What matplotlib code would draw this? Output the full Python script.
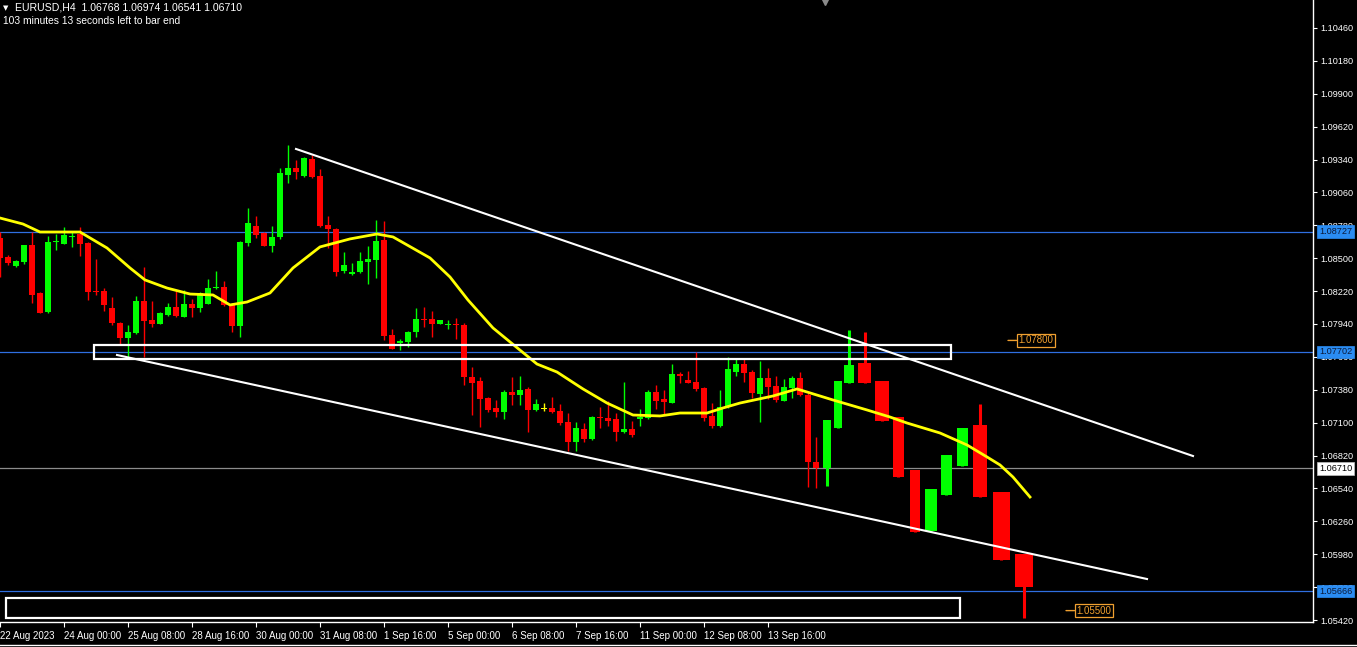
import numpy as np
import matplotlib
matplotlib.use("Agg")
import matplotlib.pyplot as plt
from matplotlib.lines import Line2D
from matplotlib.patches import Rectangle
import matplotlib.transforms as mtransforms

plt.rcParams['font.family'] = ['Liberation Sans', 'DejaVu Sans']

# ---------------- data ----------------
# bar index: 0 = 24 Aug 00:00 (H4 bars)
bar_index = np.arange(-8, 95)
opens = [1.08670, 1.08508, 1.08434, 1.08471, 1.08613, 1.08204, 1.08043, 1.08635,
         1.08619, 1.08684, 1.08707, 1.08633, 1.08218, 1.08221, 1.08077, 1.07952,
         1.07824, 1.07861, 1.08136, 1.07974, 1.07943, 1.08017, 1.08088, 1.08003,
         1.08111, 1.08079, 1.08113, 1.08247, 1.08255, 1.08108, 1.07926, 1.08633,
         1.08775, 1.08712, 1.08607, 1.08678, 1.09212, 1.09269, 1.09200, 1.09348,
         1.09203, 1.08783, 1.08752, 1.08392, 1.08363, 1.08383, 1.08471, 1.08488,
         1.08658, 1.07847, 1.07776, 1.07790, 1.07870, 1.07986, 1.07983, 1.07943,
         1.07935, 1.07940, 1.07931, 1.07491, 1.07454, 1.07307, 1.07227, 1.07193,
         1.07361, 1.07335, 1.07383, 1.07207, 1.07222, 1.07227, 1.07199, 1.07108,
         1.06932, 1.07046, 1.06960, 1.07148, 1.07139, 1.07128, 1.07017, 1.07046,
         1.07131, 1.07137, 1.07364, 1.07298, 1.07270, 1.07514, 1.07463, 1.07449,
         1.07392, 1.07156, 1.07071, 1.07230, 1.07534, 1.07599, 1.07534, 1.07344,
         1.07477, 1.07412, 1.07287, 1.07398, 1.07477, 1.07335, 1.06768]
highs = [1.08727, 1.08528, 1.08485, 1.08616, 1.08727, 1.08216, 1.08690, 1.08707,
         1.08763, 1.08729, 1.08763, 1.08641, 1.08494, 1.08244, 1.08167, 1.07960,
         1.07932, 1.08182, 1.08429, 1.08136, 1.08045, 1.08116, 1.08221, 1.08230,
         1.08150, 1.08210, 1.08321, 1.08392, 1.08304, 1.08116, 1.08647, 1.08925,
         1.08860, 1.08727, 1.08775, 1.09266, 1.09464, 1.09337, 1.09359, 1.09382,
         1.09257, 1.08860, 1.08758, 1.08556, 1.08457, 1.08556, 1.08605, 1.08826,
         1.08817, 1.07898, 1.07813, 1.07881, 1.08074, 1.08088, 1.08054, 1.07974,
         1.07974, 1.07988, 1.07945, 1.07576, 1.07486, 1.07315, 1.07293, 1.07378,
         1.07486, 1.07497, 1.07400, 1.07301, 1.07264, 1.07321, 1.07256, 1.07179,
         1.07103, 1.07094, 1.07156, 1.07230, 1.07287, 1.07179, 1.07449, 1.07117,
         1.07216, 1.07378, 1.07420, 1.07378, 1.07599, 1.07534, 1.07542, 1.07699,
         1.07400, 1.07264, 1.07378, 1.07656, 1.07653, 1.07653, 1.07548, 1.07628,
         1.07562, 1.07497, 1.07469, 1.07497, 1.07534, 1.07349, 1.06974]
lows = [1.08343, 1.08443, 1.08429, 1.08451, 1.08122, 1.08031, 1.08037, 1.08570,
        1.08619, 1.08593, 1.08522, 1.08145, 1.08187, 1.08054, 1.07932, 1.07770,
        1.07662, 1.07852, 1.07662, 1.07912, 1.07938, 1.08011, 1.07997, 1.07997,
        1.07997, 1.08043, 1.08111, 1.08238, 1.08096, 1.07870, 1.07827, 1.08605,
        1.08675, 1.08605, 1.08556, 1.08667, 1.09138, 1.09175, 1.09195, 1.09183,
        1.08769, 1.08585, 1.08352, 1.08372, 1.08358, 1.08377, 1.08281, 1.08329,
        1.07804, 1.07725, 1.07719, 1.07748, 1.07833, 1.07918, 1.07833, 1.07938,
        1.07894, 1.07809, 1.07420, 1.07165, 1.07066, 1.07193, 1.07151, 1.07131,
        1.07247, 1.07247, 1.07023, 1.07199, 1.07199, 1.07185, 1.07080, 1.06858,
        1.06861, 1.06937, 1.06952, 1.07051, 1.07071, 1.06946, 1.07009, 1.06975,
        1.07074, 1.07128, 1.07216, 1.07165, 1.07264, 1.07440, 1.07435, 1.07372,
        1.07117, 1.07057, 1.07060, 1.07222, 1.07500, 1.07449, 1.07307, 1.07108,
        1.07298, 1.07278, 1.07284, 1.07313, 1.07327, 1.06549, 1.06541]
closes = [1.08500, 1.08463, 1.08480, 1.08610, 1.08187, 1.08037, 1.08641, 1.08645,
          1.08698, 1.08692, 1.08622, 1.08216, 1.08213, 1.08102, 1.07949, 1.07824,
          1.07870, 1.08136, 1.07966, 1.07940, 1.08037, 1.08088, 1.08009, 1.08113,
          1.08079, 1.08202, 1.08250, 1.08252, 1.08099, 1.07926, 1.08641, 1.08803,
          1.08698, 1.08607, 1.08681, 1.09229, 1.09269, 1.09232, 1.09351, 1.09192,
          1.08778, 1.08746, 1.08383, 1.08443, 1.08383, 1.08480, 1.08494, 1.08650,
          1.07838, 1.07728, 1.07796, 1.07875, 1.07983, 1.07980, 1.07943, 1.07974,
          1.07939, 1.07935, 1.07486, 1.07440, 1.07298, 1.07207, 1.07193, 1.07364,
          1.07335, 1.07378, 1.07207, 1.07259, 1.07222, 1.07193, 1.07100, 1.06932,
          1.07051, 1.06958, 1.07151, 1.07142, 1.07117, 1.07017, 1.07046, 1.06995,
          1.07151, 1.07364, 1.07287, 1.07273, 1.07514, 1.07500, 1.07440, 1.07383,
          1.07137, 1.07071, 1.07230, 1.07554, 1.07599, 1.07525, 1.07349, 1.07477,
          1.07406, 1.07293, 1.07400, 1.07477, 1.07335, 1.06768, 1.06710]

# hand-drawn projection candles (start/end in bar units)
proj_start = [94.9, 96.25, 97.5, 99.25, 101.4, 103.6, 105.75, 107.6, 109.6, 111.6, 113.6, 116.1, 118.9]
proj_end = [95.9, 97.25, 98.75, 100.9, 103.1, 105.0, 107.0, 109.1, 111.0, 113.0, 115.4, 118.25, 121.1]
proj_open = [1.06714, 1.07055, 1.07438, 1.07608, 1.07455, 1.07148, 1.06697, 1.06178, 1.06484, 1.06731, 1.07080, 1.06510, 1.05982]
proj_close = [1.07123, 1.07455, 1.07591, 1.07438, 1.07114, 1.06637, 1.06169, 1.06535, 1.06825, 1.07055, 1.06467, 1.05931, 1.05701]
proj_high = [1.07123, 1.07455, 1.07889, 1.07872, 1.07455, 1.07148, 1.06697, 1.06535, 1.06825, 1.07055, 1.07259, 1.06510, 1.05982]
proj_low = [1.06561, 1.07055, 1.07438, 1.07438, 1.07114, 1.06637, 1.06169, 1.06178, 1.06484, 1.06731, 1.06467, 1.05931, 1.05437]

# moving average (yellow)
ma_bar = [-8, -5.125, -3, 2, 5.375, 8.25, 10.125, 12.875, 15.75, 18.625, 20.75, 22.875,
          25.75, 28.625, 32, 35.75, 39.125, 41.125, 45.75, 48.25, 50.5, 53.625, 59.125,
          61.625, 64.875, 67.875, 71.125, 74.5, 77, 80.375, 82.375, 84.5, 88.625, 91.625,
          92.875, 96.125, 100.375, 103.25, 105.375, 109.5, 112.875, 115.375, 117,
          118.625, 120.75]
ma_val = [1.08842, 1.08791, 1.08723, 1.08723, 1.08587, 1.08417, 1.08315, 1.08246,
          1.08195, 1.08187, 1.08102, 1.08127, 1.08204, 1.08417, 1.08596, 1.08664,
          1.08706, 1.08681, 1.08502, 1.08340, 1.08144, 1.07906, 1.07599, 1.07531,
          1.07387, 1.07267, 1.07165, 1.07157, 1.07182, 1.07182, 1.07225, 1.07267,
          1.07327, 1.07387, 1.07361, 1.07293, 1.07208, 1.07148, 1.07097, 1.07012,
          1.06910, 1.06808, 1.06740, 1.06637, 1.06467]

# trend lines
trend_bars = [[29, 141.125], [6.625, 135.375]]
trend_prices = [[1.09430, 1.06816], [1.07676, 1.05769]]

# zones (rectangles)
zone_start = [3.75, -7.25]
zone_end = [110.875, 112.0]
zone_low = [1.07642, 1.05437]
zone_high = [1.07761, 1.05607]

# horizontal levels
blue_levels = [1.08727, 1.07702, 1.05666]
bid_level = 1.06710

# price labels
label_bars = [118.0, 125.25]
label_prices = [1.07800, 1.05500]

# axes ticks
ytick_vals = [1.10460, 1.10180, 1.09900, 1.09620, 1.09340, 1.09060, 1.08780, 1.08500,
              1.08220, 1.07940, 1.07660, 1.07380, 1.07100, 1.06820, 1.06540, 1.06260,
              1.05980, 1.05700, 1.05420]
xtick_bars = [-8, 0, 8, 16, 24, 32, 40, 48, 56, 64, 72, 80, 88]
xtick_labels = ["22 Aug 2023", "24 Aug 00:00", "25 Aug 08:00", "28 Aug 16:00",
                "30 Aug 00:00", "31 Aug 08:00", "1 Sep 16:00", "5 Sep 00:00",
                "6 Sep 08:00", "7 Sep 16:00", "11 Sep 00:00", "12 Sep 08:00",
                "13 Sep 16:00"]
shift_bar = 95.1

# ---------------- styles ----------------
BULL = '#00FF00'
BEAR = '#FF0000'
DOJI = '#FFFF00'
BLUE = '#2F6FE0'
BLUE_BOX = '#2A8CF2'
ORANGE = '#F0A030'

W, H = 1357, 647
fig = plt.figure(figsize=(W / 100, H / 100), dpi=100, facecolor='black')
ax = fig.add_axes([0, 25 / H, 1313 / W, 622 / H])
ax.set_facecolor('black')
ax.set_xlim(-8, 156.125)
ax.set_ylim(1.05403, 1.10698)

# horizontal lines
for lv in blue_levels:
    ax.axhline(lv, color=BLUE, lw=0.9, zorder=1)
ax.axhline(bid_level, color='#8C8C8C', lw=0.9, zorder=1)

# candles
o = np.array(opens); c = np.array(closes); hi = np.array(highs); lo = np.array(lows)
min_h = 0.00009
colors = np.where(c > o, BULL, np.where(c < o, BEAR, DOJI))
ax.vlines(bar_index, lo, hi, colors=colors, lw=1.0, zorder=3)
body_h = np.maximum(np.abs(c - o), min_h)
ax.bar(bar_index, body_h, width=0.66, bottom=np.minimum(o, c) - np.where(np.abs(c - o) < min_h, min_h / 2, 0),
       color=colors, edgecolor='none', zorder=3, linewidth=0)

# projection candles
po = np.array(proj_open); pc = np.array(proj_close)
ps = np.array(proj_start); pe = np.array(proj_end)
pcol = np.where(pc > po, BULL, BEAR)
ax.vlines((ps + pe) / 2, proj_low, proj_high, colors=pcol, lw=2.2, zorder=3)
ax.bar(ps, np.abs(pc - po), width=pe - ps, bottom=np.minimum(po, pc), align='edge',
       color=pcol, edgecolor='none', linewidth=0, zorder=3)

# moving average
ax.plot(ma_bar, ma_val, color='#FFFF00', lw=2.0, zorder=4, solid_joinstyle='round')

# trend lines
for xb, yp in zip(trend_bars, trend_prices):
    ax.plot(xb, yp, color='white', lw=1.5, zorder=5)

# zones
for s, e, l, h in zip(zone_start, zone_end, zone_low, zone_high):
    ax.add_patch(Rectangle((s, l), e - s, h - l, fill=False, ec='white', lw=1.6, zorder=5))

# orange price labels
for b, p in zip(label_bars, label_prices):
    ax.annotate(f"{p:.5f}", xy=(b, p), xytext=(7.5, 0), textcoords='offset points',
                ha='left', va='center', fontsize=7, color=ORANGE,
                bbox=dict(boxstyle='square,pad=0.15', fc='black', ec=ORANGE, lw=0.9),
                arrowprops=dict(arrowstyle='-', color=ORANGE, lw=1.0, shrinkA=0, shrinkB=0),
                zorder=6)

# chart shift marker
trans = mtransforms.blended_transform_factory(ax.transData, ax.transAxes)
ax.plot([shift_bar], [0.997], marker='v', color='#8A8A8A', markersize=5, transform=trans,
        clip_on=False, zorder=7)

# spines
for s in ['left', 'top']:
    ax.spines[s].set_visible(False)
for s in ['right', 'bottom']:
    ax.spines[s].set_color('white')
    ax.spines[s].set_linewidth(1.0)

# y axis
ax.yaxis.tick_right()
ax.set_yticks(ytick_vals)
ax.set_yticklabels([f"{v:.5f}" for v in ytick_vals])
ax.tick_params(axis='y', colors='white', length=3, width=0.8, labelsize=6.6, pad=2.5,
               direction='out')

# x axis
ax.set_xticks(xtick_bars)
ax.set_xticklabels(xtick_labels)
ax.tick_params(axis='x', colors='white', length=3.5, width=0.8, labelsize=7, pad=3,
               direction='out')
for lbl in ax.get_xticklabels():
    lbl.set_horizontalalignment('left')

# right axis value boxes
for lv in blue_levels:
    ax.annotate(f"{lv:.5f}", xy=(1, lv), xycoords=('axes fraction', 'data'),
                xytext=(4.3, 0), textcoords='offset points', ha='left', va='center',
                fontsize=6.6, color='#0B1A3A',
                bbox=dict(boxstyle='square,pad=0.2', fc=BLUE_BOX, ec=BLUE_BOX, lw=0.5),
                annotation_clip=False, zorder=8)
ax.annotate(f"{bid_level:.5f}", xy=(1, bid_level), xycoords=('axes fraction', 'data'),
            xytext=(4.3, 0), textcoords='offset points', ha='left', va='center',
            fontsize=6.6, color='black',
            bbox=dict(boxstyle='square,pad=0.2', fc='white', ec='#C0C0C0', lw=0.5),
            annotation_clip=False, zorder=8)

# header texts
fig.text(3 / W, 1 - 8 / H, "\u25BC", fontsize=5, color='white', va='center', ha='left',
         family=['DejaVu Sans'])
fig.text(15 / W, 1 - 8 / H, "EURUSD,H4  1.06768 1.06974 1.06541 1.06710", fontsize=7.6,
         color='white', va='center', ha='left')
fig.text(3 / W, 1 - 21 / H, "103 minutes 13 seconds left to bar end", fontsize=7.4,
         color='white', va='center', ha='left')

# bottom window border
fig.add_artist(Line2D([0, 1], [2 / H, 2 / H], color='white', lw=1.0, transform=fig.transFigure))

fig.savefig('out.png', dpi=100, facecolor='black')
